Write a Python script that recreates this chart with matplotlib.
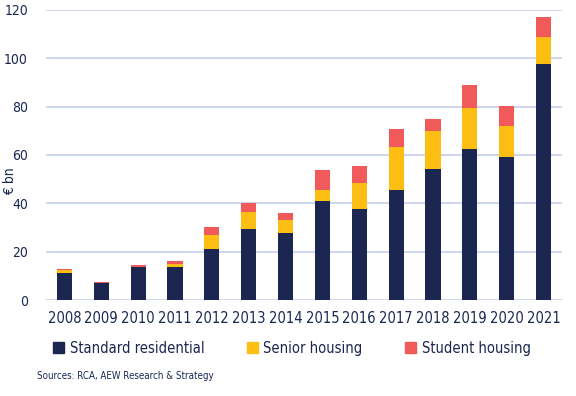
import matplotlib
matplotlib.use('Agg')
import matplotlib.pyplot as plt
from matplotlib.patches import Patch
import numpy as np

plt.rcParams['font.family'] = ['DejaVu Sans']
plt.rcParams['font.stretch'] = 'condensed'

NAVY = '#1B2651'
YELLOW = '#FDBE14'
RED = '#F05A5A'
GRID = '#D0D7EC'

years = ['2008', '2009', '2010', '2011', '2012', '2013', '2014',
         '2015', '2016', '2017', '2018', '2019', '2020', '2021']
standard = [11.3, 6.9, 13.5, 13.5, 21.3, 29.2, 27.9,
            40.8, 37.5, 45.4, 54.1, 62.4, 59.0, 97.6]
senior = [1.0, 0.3, 0.3, 1.3, 5.5, 7.4, 5.0,
          4.6, 10.8, 17.8, 15.7, 17.0, 12.9, 11.2]
student = [0.4, 0.4, 0.8, 1.2, 3.2, 3.4, 3.0,
           8.2, 7.0, 7.5, 5.0, 9.5, 8.3, 8.3]

fig = plt.figure(figsize=(5.76, 3.96), dpi=100)
ax = fig.add_axes([0.0799, 0.2424, 0.8958, 0.7326])

x = np.arange(len(years))
std = np.array(standard)
sen = np.array(senior)
stu = np.array(student)
w = 0.41
ax.bar(x, std, w, color=NAVY, zorder=3)
ax.bar(x, sen, w, bottom=std, color=YELLOW, zorder=3)
ax.bar(x, stu, w, bottom=std + sen, color=RED, zorder=3)

ax.set_xlim(-0.5, 13.5)
ax.set_ylim(0, 120)
ax.set_yticks(range(0, 121, 20))
ax.set_xticks(x)
ax.set_xticklabels(years)
ax.yaxis.grid(True, color=GRID, lw=1.5, zorder=0)
ax.set_axisbelow(True)
for s in ax.spines.values():
    s.set_visible(False)
ax.tick_params(axis='both', length=0, colors=NAVY)
ax.tick_params(axis='x', labelsize=10.5, pad=8)
ax.tick_params(axis='y', labelsize=10, pad=13)
ax.set_ylabel('€ bn', color=NAVY, fontsize=10)
ax.yaxis.set_label_coords(-0.056, 0.41)

handles = [Patch(color=NAVY, label='Standard residential'),
           Patch(color=YELLOW, label='Senior housing'),
           Patch(color=RED, label='Student housing')]
fig.legend(handles=handles, loc='center left', bbox_to_anchor=(0.092, 0.121),
           ncol=3, frameon=False, handlelength=0.75,
           handleheight=0.75, handletextpad=0.4, columnspacing=2.9,
           labelcolor=NAVY, borderaxespad=0, borderpad=0,
           prop={'size': 10.5, 'stretch': 'condensed'})

fig.text(0.064, 0.05, 'Sources: RCA, AEW Research & Strategy',
         color=NAVY, fontsize=7, va='center')

fig.savefig('out.png', dpi=100)
